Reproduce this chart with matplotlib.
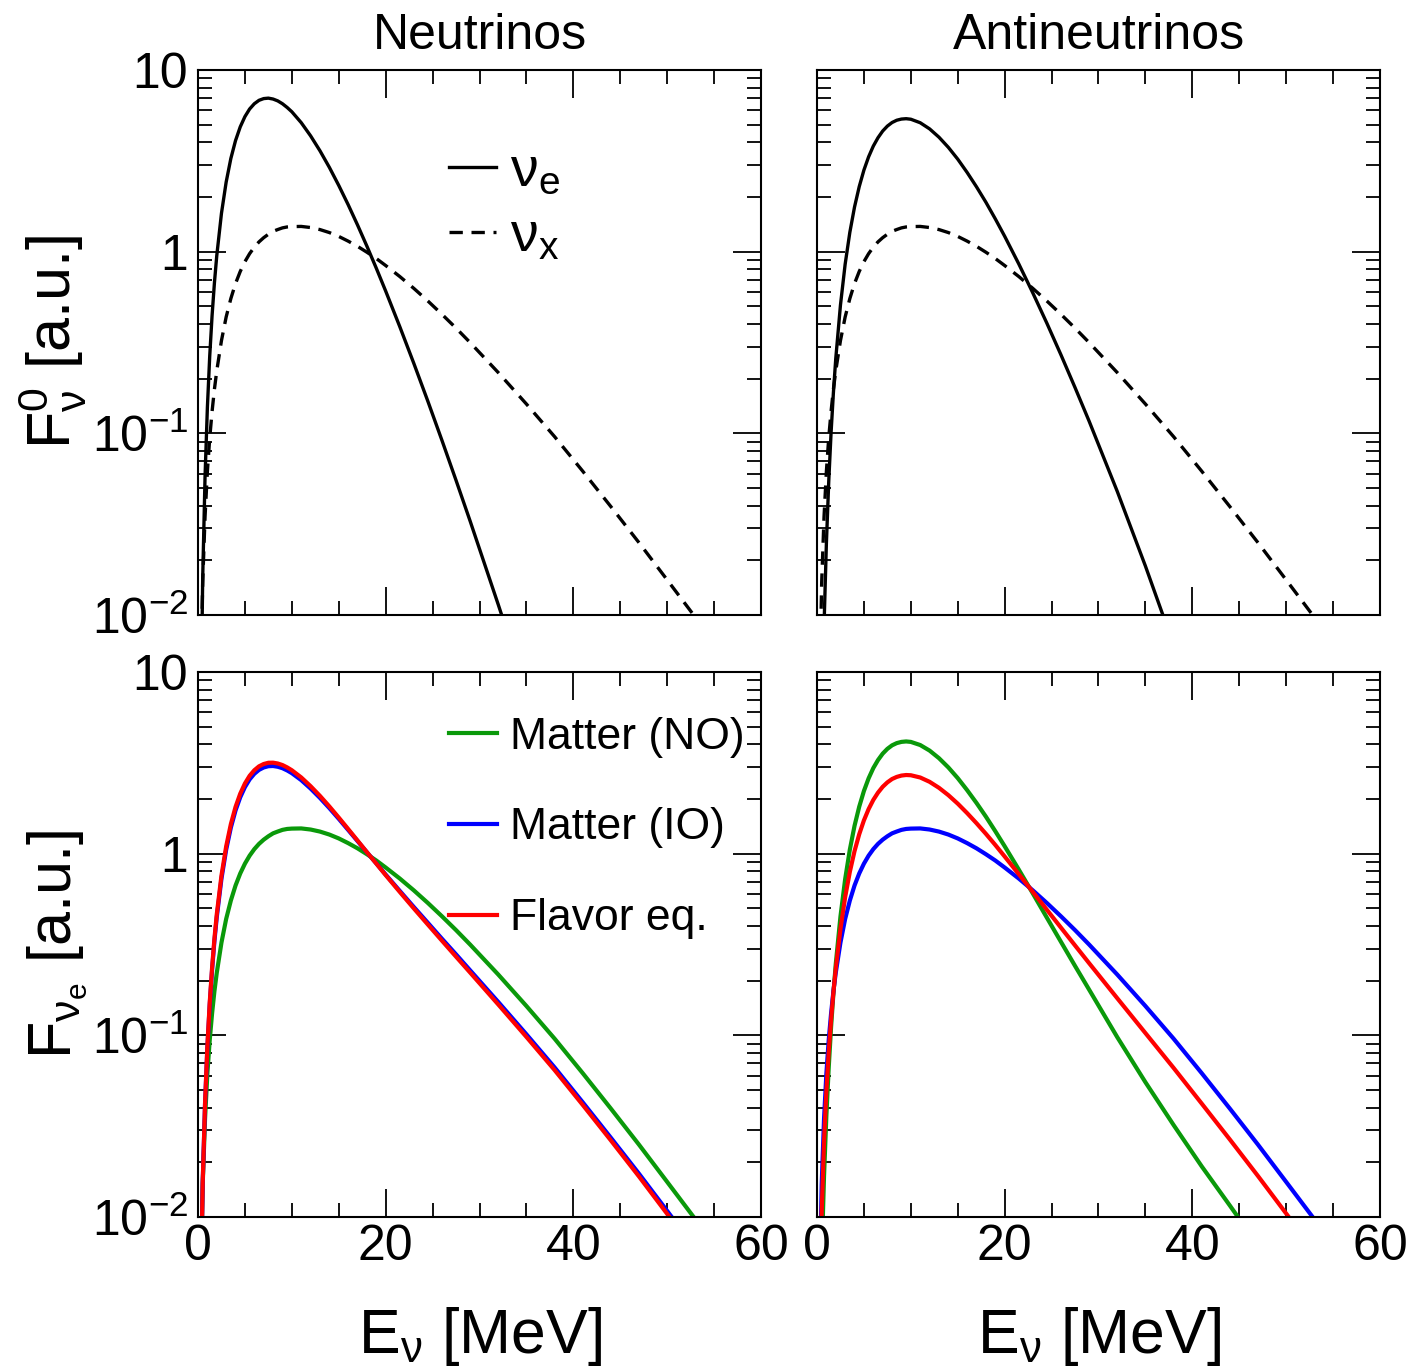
import numpy as np
import matplotlib
matplotlib.use("Agg")
import matplotlib.pyplot as plt
from matplotlib.lines import Line2D
from matplotlib.ticker import MultipleLocator, LogLocator, FuncFormatter, NullFormatter

plt.rcParams['font.family'] = 'Liberation Sans'
plt.rcParams['mathtext.fontset'] = 'custom'
plt.rcParams['mathtext.rm'] = 'Liberation Sans'
plt.rcParams['mathtext.it'] = 'Liberation Sans:italic'
plt.rcParams['mathtext.bf'] = 'Liberation Sans:bold'

# neutrino energy grid [MeV]
energy = [0.25, 0.5, 0.75, 1, 1.25, 1.5, 1.75, 2, 2.5, 3, 3.5, 4, 4.5, 5, 5.5, 6, 6.5, 7,
          7.5, 8, 8.5, 9, 9.5, 10, 11, 12, 13, 14, 15, 16, 17, 18, 19, 20, 21.5, 23, 24.5,
          26, 27.5, 29, 32, 35, 38, 41, 44, 47, 50, 53, 56, 60]

# fluxes at the source [a.u.] (nu_e and anti-nu_e stop once they are far below the frame)
flux_nue = [0.00165, 0.0160, 0.0578, 0.139, 0.267, 0.445, 0.674, 0.951, 1.626, 2.415, 3.258,
            4.09, 4.862, 5.54, 6.10, 6.52, 6.81, 6.96, 7.00, 6.92, 6.76, 6.52, 6.22, 5.89,
            5.13, 4.34, 3.59, 2.91, 2.315, 1.815, 1.403, 1.072, 0.811, 0.607, 0.387, 0.2427,
            0.150, 0.0914, 0.0551, 0.0329, 0.0114, 0.00384, 0.00126]
flux_nuebar = [0.000132, 0.00191, 0.00869, 0.0247, 0.0541, 0.101, 0.168, 0.258, 0.508, 0.853,
               1.278, 1.762, 2.280, 2.812, 3.327, 3.811, 4.238, 4.613, 4.912, 5.140, 5.291,
               5.370, 5.395, 5.358, 5.125, 4.742, 4.266, 3.750, 3.230, 2.729, 2.274, 1.871,
               1.516, 1.216, 0.857, 0.593, 0.4036, 0.2704, 0.1786, 0.1167, 0.0479, 0.0186,
               0.00684, 0.00237]
flux_nux = [0.00355, 0.0151, 0.0347, 0.0617, 0.0943, 0.132, 0.175, 0.221, 0.324, 0.437, 0.552,
            0.668, 0.778, 0.881, 0.975, 1.059, 1.132, 1.194, 1.247, 1.294, 1.324, 1.352, 1.368,
            1.374, 1.377, 1.358, 1.323, 1.274, 1.213, 1.143, 1.070, 0.993, 0.917, 0.839, 0.730,
            0.628, 0.535, 0.452, 0.3794, 0.316, 0.216, 0.145, 0.0959, 0.0619, 0.0395, 0.0250,
            0.0156, 0.00972, 0.00603, 0.00316]

# nu_e flux after propagation [a.u.]
nue_matter_no = [0.00355, 0.0151, 0.0347, 0.0617, 0.0943, 0.132, 0.175, 0.221, 0.324, 0.437,
                 0.552, 0.668, 0.778, 0.881, 0.975, 1.059, 1.132, 1.194, 1.247, 1.294, 1.324,
                 1.352, 1.368, 1.374, 1.377, 1.358, 1.323, 1.274, 1.213, 1.143, 1.070, 0.993,
                 0.917, 0.839, 0.730, 0.628, 0.535, 0.452, 0.3794, 0.316, 0.216, 0.145, 0.0959,
                 0.0619, 0.0395, 0.0250, 0.0156, 0.00972, 0.00603, 0.00316]
nue_matter_io = [0.00296, 0.0154, 0.0419, 0.0857, 0.148, 0.229, 0.330, 0.447, 0.728, 1.050,
                 1.391, 1.729, 2.044, 2.325, 2.564, 2.752, 2.892, 2.982, 3.030, 3.038, 3.009,
                 2.954, 2.872, 2.774, 2.540, 2.282, 2.026, 1.781, 1.555, 1.351, 1.173, 1.018,
                 0.884, 0.767, 0.624, 0.5085, 0.416, 0.340, 0.279, 0.228, 0.1526, 0.1013,
                 0.0666, 0.0428, 0.0273, 0.0173, 0.0108, 0.00671, 0.00416, 0.00218]
nue_flavor_eq = [0.00292, 0.0154, 0.0424, 0.0875, 0.152, 0.236, 0.341, 0.464, 0.758, 1.096,
                 1.454, 1.809, 2.139, 2.434, 2.683, 2.879, 3.025, 3.116, 3.165, 3.169, 3.136,
                 3.075, 2.985, 2.879, 2.628, 2.352, 2.079, 1.819, 1.580, 1.367, 1.181, 1.019,
                 0.882, 0.762, 0.616, 0.4996, 0.407, 0.3318, 0.271, 0.2216, 0.1478, 0.0980,
                 0.0644, 0.0414, 0.0264, 0.0167, 0.0104, 0.00648, 0.00402, 0.00211]

# anti-nu_e flux after propagation [a.u.]
nuebar_matter_no = [0.00119, 0.0060, 0.0168, 0.0362, 0.0665, 0.111, 0.170, 0.247, 0.451, 0.724,
                    1.053, 1.423, 1.814, 2.213, 2.598, 2.958, 3.275, 3.553, 3.776, 3.948, 4.061,
                    4.124, 4.147, 4.123, 3.963, 3.693, 3.354, 2.983, 2.605, 2.237, 1.901, 1.599,
                    1.330, 1.099, 0.818, 0.604, 0.444, 0.327, 0.241, 0.1785, 0.0977, 0.0552,
                    0.0321, 0.0190, 0.01156, 0.00698, 0.00420, 0.00253, 0.00152, 0.00078]
nuebar_matter_io = [0.00355, 0.0151, 0.0347, 0.0617, 0.0943, 0.132, 0.175, 0.221, 0.324, 0.437,
                    0.552, 0.668, 0.778, 0.881, 0.975, 1.059, 1.132, 1.194, 1.247, 1.294, 1.324,
                    1.352, 1.368, 1.374, 1.377, 1.358, 1.323, 1.274, 1.213, 1.143, 1.070, 0.993,
                    0.917, 0.839, 0.730, 0.628, 0.535, 0.452, 0.3794, 0.316, 0.216, 0.145,
                    0.0959, 0.0619, 0.0395, 0.0250, 0.0156, 0.00972, 0.00603, 0.00316]
nuebar_flavor_eq = [0.00241, 0.0107, 0.0260, 0.0494, 0.0809, 0.1217, 0.173, 0.233, 0.385, 0.576,
                    0.794, 1.033, 1.279, 1.525, 1.759, 1.976, 2.167, 2.334, 2.469, 2.576, 2.646,
                    2.691, 2.710, 2.702, 2.626, 2.486, 2.304, 2.099, 1.885, 1.672, 1.471, 1.286,
                    1.117, 0.965, 0.772, 0.616, 0.491, 0.3915, 0.3125, 0.2496, 0.1600, 0.1029,
                    0.0662, 0.0421, 0.0267, 0.0168, 0.01045, 0.00648, 0.00402, 0.00211]

GREEN = '#0a990a'
BLUE = '#0000ff'
RED = '#ff0000'
LW_BLACK = 2.4
LW_COLOR = 3.0
DASH = (0, (4.0, 2.6))


def log_label(v, pos):
    exp = int(round(np.log10(v)))
    if exp in (0, 1):
        return f"{v:g}"
    return rf"$\mathregular{{10^{{{exp}}}}}$"


def style_axes(ax, show_x, show_y):
    ax.set_yscale('log')
    ax.set_xlim(0, 60)
    ax.set_ylim(1e-2, 10)
    ax.xaxis.set_major_locator(MultipleLocator(20))
    ax.xaxis.set_minor_locator(MultipleLocator(5))
    ax.xaxis.set_major_formatter(FuncFormatter(lambda v, p: f"{v:.0f}"))
    ax.yaxis.set_major_locator(LogLocator(base=10, numticks=12))
    ax.yaxis.set_minor_locator(LogLocator(base=10, subs=np.arange(2, 10), numticks=12))
    ax.yaxis.set_major_formatter(FuncFormatter(log_label))
    ax.yaxis.set_minor_formatter(NullFormatter())
    ax.tick_params(which='both', direction='in', top=True, right=True, width=1.3,
                   labelsize=36)
    ax.tick_params(which='major', length=20)
    ax.tick_params(which='minor', length=10)
    ax.tick_params(axis='x', pad=5, labelbottom=show_x)
    ax.tick_params(axis='y', pad=7, labelleft=show_y)
    for s in ax.spines.values():
        s.set_linewidth(1.5)


fig = plt.figure(figsize=(14.11, 13.67), dpi=100)
w, h = 0.39901, 0.39868
ax_tl = fig.add_axes([0.14033, 0.55011, w, h])
ax_tr = fig.add_axes([0.57902, 0.55011, w, h])
ax_bl = fig.add_axes([0.14033, 0.10973, w, h])
ax_br = fig.add_axes([0.57902, 0.10973, w, h])

# source spectra
ax_tl.plot(energy[:len(flux_nue)], flux_nue, color='black', lw=LW_BLACK)
ax_tl.plot(energy, flux_nux, color='black', lw=LW_BLACK, ls=DASH)
ax_tr.plot(energy[:len(flux_nuebar)], flux_nuebar, color='black', lw=LW_BLACK)
ax_tr.plot(energy, flux_nux, color='black', lw=LW_BLACK, ls=DASH)

# spectra after oscillations
ax_bl.plot(energy, nue_matter_no, color=GREEN, lw=LW_COLOR)
ax_bl.plot(energy, nue_matter_io, color=BLUE, lw=LW_COLOR)
ax_bl.plot(energy, nue_flavor_eq, color=RED, lw=LW_COLOR)
ax_br.plot(energy, nuebar_matter_no, color=GREEN, lw=LW_COLOR)
ax_br.plot(energy, nuebar_matter_io, color=BLUE, lw=LW_COLOR)
ax_br.plot(energy, nuebar_flavor_eq, color=RED, lw=LW_COLOR)

style_axes(ax_tl, False, True)
style_axes(ax_tr, False, False)
style_axes(ax_bl, True, True)
style_axes(ax_br, True, False)

ax_tl.set_title('Neutrinos', fontsize=36, pad=15)
ax_tr.set_title('Antineutrinos', fontsize=36, pad=15)

ax_tl.set_ylabel(r'$\mathregular{F^{0}_{ν}}$ [a.u.]', fontsize=44, labelpad=2)
ax_bl.set_ylabel(r'$\mathregular{F_{ν_{e}}}$ [a.u.]', fontsize=44, labelpad=2)
for ax in (ax_bl, ax_br):
    ax.set_xlabel(r'$\mathregular{E_{ν}}$ [MeV]', fontsize=45, labelpad=25)

top_handles = [Line2D([], [], color='black', lw=LW_BLACK),
               Line2D([], [], color='black', lw=LW_BLACK, ls=DASH)]
ax_tl.legend(top_handles, [r'$\mathregular{ν_{e}}$', r'$\mathregular{ν_{x}}$'],
             loc='upper left', bbox_to_anchor=(0.446, 0.86), frameon=False, fontsize=40,
             handlelength=0.85, handletextpad=0.25, labelspacing=0.23, borderpad=0,
             borderaxespad=0)

bottom_handles = [Line2D([], [], color=c, lw=LW_COLOR) for c in (GREEN, BLUE, RED)]
ax_bl.legend(bottom_handles, ['Matter (NO)', 'Matter (IO)', 'Flavor eq.'],
             loc='upper left', bbox_to_anchor=(0.446, 0.918), frameon=False, fontsize=32,
             handlelength=1.08, handletextpad=0.3, labelspacing=1.12, borderpad=0,
             borderaxespad=0)

fig.savefig('out.png', dpi=100)
